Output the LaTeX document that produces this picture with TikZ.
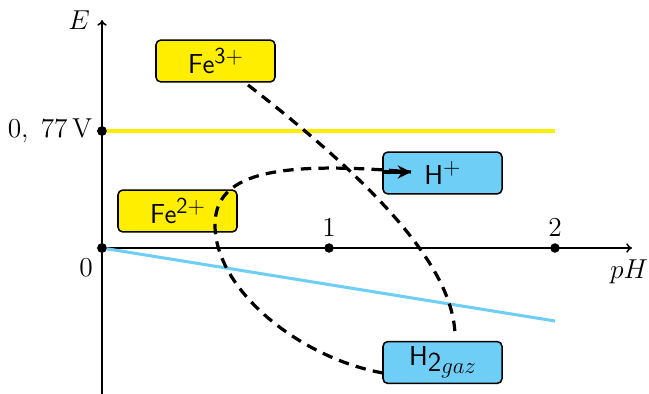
\documentclass[tikz,border=0pt]{standalone}
\usetikzlibrary{arrows.meta}
\definecolor{fey}{RGB}{255,238,0}
\definecolor{hb}{RGB}{110,206,245}
\newcommand\upx[1]{\raisebox{5.4pt}{\fontsize{12}{14}\selectfont #1}}
\begin{document}
\begin{tikzpicture}[x=0.526pt,y=-0.526pt,
  box/.style={draw=black,line width=0.8pt,rounded corners=2.5pt,minimum width=62.6pt,minimum height=22pt,inner sep=0pt,font=\fontsize{14.4}{16}\selectfont\sffamily},
  lab/.style={inner sep=0pt,font=\fontsize{14}{16}\selectfont},
  dot/.style={circle,fill=black,inner sep=0pt,minimum size=5pt},
  ax/.style={line width=0.8pt,-{To[length=3pt,width=5pt]}},
  dsh/.style={line width=1.7pt,dash pattern=on 5.5pt off 3.8pt}]
\useasboundingbox (0,0) rectangle (649,394);
% axes
\coordinate (ybot) at (102,394);
\coordinate (ytop) at (102,20);
\coordinate (xend) at (632,248);
\node[dot] (o) at (102,248) {};
\node[dot] (p1) at (329,248) {};
\node[dot] (p2) at (555,248) {};
\node[dot] (v) at (102,131) {};
\draw[ax] (ybot) -- (ytop);
\draw[ax] (o.center) -- (xend);
\node[lab] (E) at (79,20) {$E$};
\node[lab] (pH) at (629,272) {$pH$};
\node[lab] (l1) at (329,228) {$1$};
\node[lab] (l2) at (555,228) {$2$};
\node[lab] (l0) at (86,268) {$0$};
\node[lab,anchor=east] (lv) at (93,131) {$0,\;77\,\mathrm{V}$};
% lines
\coordinate (ye) at (555,131);
\coordinate (be) at (555,321);
\draw[fey,line width=1.6pt] (v.center) -- (ye);
\draw[hb,line width=1.6pt] (o.center) -- (be);
\node[dot] at (v) {};
\node[dot] at (o) {};
% boxes
\node[box,fill=fey] (fe3) at (215.5,61) {Fe\upx{3+}};
\node[box,fill=fey] (fe2) at (177.5,211) {Fe\upx{2+}};
\node[box,fill=hb] (hp) at (442.5,173) {H\upx{+}};
\node[box,fill=hb] (h2) at (442.5,362.5) {H\raisebox{-3.2pt}{2}\raisebox{-4.4pt}{\fontsize{13}{15}\selectfont$gaz$}};
% curves
\coordinate (a1) at (248,85);
\coordinate (a2) at (455,337);
\draw[dsh] (a1) .. controls (390,195) and (455,275) .. (a2);
\coordinate (b1) at (383,373);
\coordinate (bm) at (215,225);
\coordinate (b2) at (411,172);
\draw[dsh] (b1) .. controls (300,358) and (215,290) .. (bm)
  .. controls (215,175) and (270,160) .. (b2);
\draw[line width=1.6pt,-{Stealth[length=7pt,width=7pt]}] (384,172) -- (b2);
\end{tikzpicture}
\end{document}
